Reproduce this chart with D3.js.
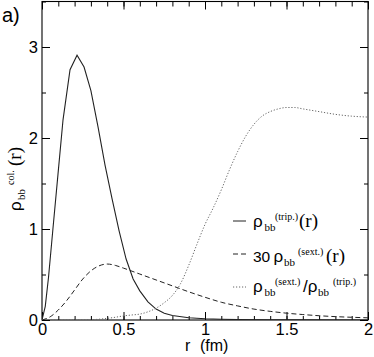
<!DOCTYPE html>
<html><head><meta charset="utf-8">
<script src="https://cdn.jsdelivr.net/npm/d3@7"></script>
<style>body{margin:0;background:#fff}svg{display:block}</style>
</head><body>
<script>
// data
const tripR = [0,0.02,0.04,0.067,0.098,0.129,0.172,0.215,0.258,0.3,0.344,0.387,0.43,0.473,0.516,0.559,0.6,0.65,0.7,0.75,0.8,0.9,1.0,1.1,1.2,1.4,1.6,2.0];
const tripV = [0,0.15,0.47,1.0,1.6,2.2,2.75,2.91,2.78,2.52,2.12,1.7,1.33,0.98,0.67,0.45,0.32,0.2,0.12,0.075,0.05,0.025,0.014,0.008,0.005,0.002,0.001,0];
const sextR = [0,0.05,0.1,0.15,0.2,0.25,0.3,0.35,0.4,0.45,0.5,0.6,0.7,0.8,0.9,1.0,1.1,1.2,1.3,1.4,1.5,1.6,1.7,1.8,1.9,2.0];
const sextV = [0,0.035,0.11,0.21,0.33,0.45,0.54,0.595,0.615,0.6,0.57,0.505,0.44,0.375,0.31,0.25,0.195,0.155,0.12,0.095,0.075,0.06,0.047,0.037,0.03,0.024];
const ratioR = [0,0.2,0.3,0.385,0.45,0.5,0.55,0.6,0.65,0.7,0.75,0.8,0.85,0.9,0.95,1.0,1.05,1.1,1.15,1.2,1.25,1.3,1.35,1.4,1.45,1.5,1.55,1.6,1.7,1.8,1.9,2.0];
const ratioV = [0,0,0.003,0.015,0.03,0.045,0.055,0.065,0.09,0.13,0.19,0.27,0.40,0.60,0.83,1.05,1.23,1.43,1.65,1.85,2.02,2.15,2.24,2.29,2.32,2.335,2.335,2.32,2.29,2.26,2.24,2.23];
const xMajor = [0,0.5,1,1.5,2];
const xMajorLabels = ["0","0.5","1","1.5","2"];
const yMajor = [0,1,2,3];
const yMajorLabels = ["0","1","2","3"];

const W=374,H=357;
const svg=d3.select("body").append("svg").attr("width",W).attr("height",H);
const x=d3.scaleLinear().domain([0,2]).range([42,368]);
const y=d3.scaleLinear().domain([0,3.5]).range([320,1.5]);
const sans="'Liberation Sans', Arial, Helvetica, sans-serif";
const serif="'Liberation Serif', 'Times New Roman', serif";
const fs=16.5;

const xMinor=d3.range(0,2.0001,0.1).map(v=>+v.toFixed(2));
const yMinor=d3.range(0,3.5001,0.5).map(v=>+v.toFixed(2));

function styleAxis(g){g.select(".domain").remove();g.selectAll("line").attr("stroke","#000");g.selectAll("text").attr("font-family",sans).attr("font-size",fs).attr("fill","#000");}

// bottom
svg.append("g").attr("transform","translate(0,320)").call(d3.axisBottom(x).tickValues(xMinor).tickSize(-4).tickFormat("")).call(styleAxis);
svg.append("g").attr("transform","translate(0,320)").call(d3.axisBottom(x).tickValues(xMajor).tickSize(-8).tickPadding(3).tickFormat((d,i)=>xMajorLabels[i])).call(styleAxis);
// top
svg.append("g").attr("transform","translate(0,1.5)").call(d3.axisTop(x).tickValues(xMinor).tickSize(-5).tickFormat("")).call(styleAxis);
svg.append("g").attr("transform","translate(0,1.5)").call(d3.axisTop(x).tickValues(xMajor).tickSize(-8).tickFormat("")).call(styleAxis);
// left
svg.append("g").attr("transform","translate(42,0)").call(d3.axisLeft(y).tickValues(yMinor).tickSize(-4).tickFormat("")).call(styleAxis);
svg.append("g").attr("transform","translate(42,0)").call(d3.axisLeft(y).tickValues(yMajor).tickSize(-8).tickPadding(4).tickFormat((d,i)=>yMajorLabels[i])).call(styleAxis);
// right
svg.append("g").attr("transform","translate(368,0)").call(d3.axisRight(y).tickValues(yMinor).tickSize(-4).tickFormat("")).call(styleAxis);
svg.append("g").attr("transform","translate(368,0)").call(d3.axisRight(y).tickValues(yMajor).tickSize(-8).tickFormat("")).call(styleAxis);

// frame
svg.append("rect").attr("x",x(0)).attr("y",y(3.5)).attr("width",x(2)-x(0)).attr("height",y(0)-y(3.5)).attr("fill","none").attr("stroke","#000").attr("stroke-width",1.1);

const line=d3.line().x(d=>x(d[0])).y(d=>y(d[1]));
svg.append("clipPath").attr("id","c").append("rect").attr("x",x(0)).attr("y",y(3.5)).attr("width",x(2)-x(0)).attr("height",y(0)-y(3.5));
const plot=svg.append("g").attr("clip-path","url(#c)");
plot.append("path").datum(tripR.map((r,i)=>[r,tripV[i]])).attr("d",line).attr("fill","none").attr("stroke","#222").attr("stroke-width",1.1);
plot.append("path").datum(sextR.map((r,i)=>[r,sextV[i]])).attr("d",line.curve(d3.curveMonotoneX)).attr("fill","none").attr("stroke","#222").attr("stroke-width",1).attr("stroke-dasharray","5,3");
plot.append("path").datum(ratioR.map((r,i)=>[r,ratioV[i]])).attr("d",line.curve(d3.curveMonotoneX)).attr("fill","none").attr("stroke","#666").attr("stroke-width",1).attr("stroke-dasharray","1.2,1.8");

// legend
const leg=[{y:221,dash:null,col:"#222"},{y:254,dash:"5,3",col:"#222"},{y:287,dash:"1.2,1.8",col:"#666"}];
leg.forEach(l=>{svg.append("line").attr("x1",233).attr("x2",246).attr("y1",l.y).attr("y2",l.y).attr("stroke",l.col).attr("stroke-width",1).attr("stroke-dasharray",l.dash);});

// parts: [font, size, text, x, baselineOffset]
function rich(g, base, parts){
  parts.forEach(p=>{
    g.append("text").attr("x",p[3]).attr("y",base+p[4]).attr("font-family",p[0]==="s"?sans:serif)
     .attr("font-size",p[1]).attr("fill","#000").text(p[2]);
  });
}
const sub=11, sup=10, main=17;
rich(svg,227,[["s",main,"ρ",253,0],["r",sub,"bb",264.5,4],["r",sup,"(trip.)",275,-7],["r",19,"(r)",299,0]]);
rich(svg,261.5,[["s",15.5,"30",253,0],["s",main,"ρ",273.5,0],["r",sub,"bb",284,4],["r",sup,"(sext.)",298,-7],["r",19,"(r)",326,0]]);
rich(svg,292,[["s",main,"ρ",253,0],["r",sub,"bb",264.5,4],["r",sup,"(sext.)",275,-7],["s",main,"/ρ",303,0],["r",sub,"bb",318,4],["r",sup,"(trip.)",333,-7]]);

// y label (rotated)
const yl=svg.append("g").attr("transform","translate(21,0) rotate(-90)");
rich(yl,0,[["s",main,"ρ",-211,0],["r",sub,"bb",-200,4],["r",sup,"col.",-185,-7],["r",19,"(r)",-166,0]]);

// x label
svg.append("text").attr("x",185).attr("y",351).attr("font-family",sans).attr("font-size",16).text("r");
svg.append("text").attr("x",200).attr("y",351).attr("font-family",sans).attr("font-size",16).text("(fm)");

// panel label
svg.append("text").attr("x",2).attr("y",22).attr("font-family",sans).attr("font-size",20).text("a)");
</script>
</body></html>
